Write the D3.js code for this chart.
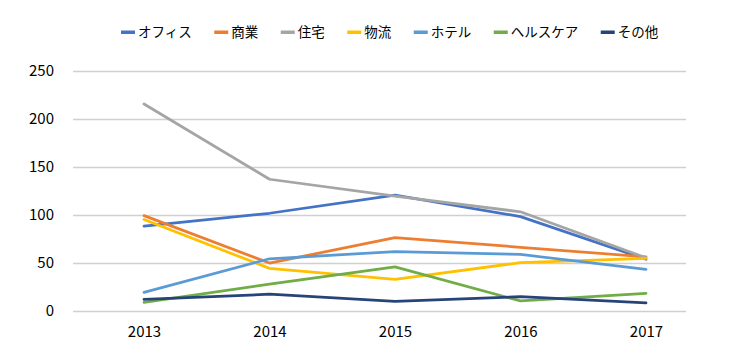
<!DOCTYPE html>
<html><head><meta charset="utf-8">
<script src="https://cdn.jsdelivr.net/npm/d3@7"></script>
<style>body{margin:0;background:#fff;} svg{display:block;}</style>
</head><body>
<svg id="c" width="730" height="361"></svg>
<script>
const years = ["2013","2014","2015","2016","2017"];
const yTicks = [0,50,100,150,200,250];
const seriesNames = ["オフィス","商業","住宅","物流","ホテル","ヘルスケア","その他"];
const seriesColors = ["#4472C4","#ED7D31","#A5A5A5","#FFC000","#5B9BD5","#70AD47","#264478"];
const office = [88, 101.5, 120.5, 98, 53.5];
const commerce = [99, 49.5, 76, 66, 56];
const residential = [215.5, 137, 119.5, 103, 55];
const logistics = [95, 44, 32.5, 50, 54.5];
const hotel = [19, 54, 61.5, 58.5, 43];
const healthcare = [8.5, 27.5, 45.5, 10, 18];
const other = [11.5, 17, 9.5, 14.5, 8];
const seriesValues = [office, commerce, residential, logistics, hotel, healthcare, other];

const svg = d3.select("#c");
const font = "'Noto Sans CJK JP', 'Noto Sans', sans-serif";
const x = d3.scalePoint().domain(years).range([144, 646]);
const y = d3.scaleLinear().domain([0, 250]).range([310.5, 71]);
const gridL = 73, gridR = 686;

// gridlines
svg.append("g").selectAll("line").data(yTicks).join("line")
  .attr("x1", gridL).attr("x2", gridR)
  .attr("y1", d => Math.round(y(d)) + 0.5).attr("y2", d => Math.round(y(d)) + 0.5)
  .attr("stroke", "#D0D0D0").attr("stroke-width", 1.5);

// y axis labels
const yAxis = d3.axisLeft(y).tickValues(yTicks).tickSize(0).tickPadding(0);
const yg = svg.append("g").attr("transform", "translate(54,0)").call(yAxis);
yg.select(".domain").remove();
yg.selectAll("text").attr("font-family", font).attr("font-size", 15).attr("fill", "#000");

// x axis labels
const xAxis = d3.axisBottom(x).tickSize(0).tickPadding(0);
const xg = svg.append("g").attr("transform", "translate(0,326)").call(xAxis);
xg.select(".domain").remove();
xg.selectAll("text").attr("font-family", font).attr("font-size", 15).attr("fill", "#000");

// lines
const line = d3.line().x((d, i) => x(years[i])).y(d => y(d));
svg.append("g").selectAll("path").data(seriesValues).join("path")
  .attr("d", d => line(d))
  .attr("fill", "none")
  .attr("stroke", (d, i) => seriesColors[i])
  .attr("stroke-width", 2.75)
  .attr("stroke-linejoin", "round").attr("stroke-linecap", "round");

// legend
const lg = svg.append("g").attr("transform", "translate(121,32)");
let cx = 0;
seriesNames.forEach((n, i) => {
  const g = lg.append("g").attr("transform", `translate(${cx},0)`);
  g.append("rect").attr("x", 0).attr("y", -1.5).attr("width", 14).attr("height", 3.5).attr("fill", seriesColors[i]);
  const t = g.append("text").attr("x", 17).attr("y", 0).attr("dy", "0.35em")
    .attr("font-family", font).attr("font-size", 13.5).attr("fill", "#000").text(n);
  const w = 17 + t.node().getComputedTextLength();
  cx += w + 22.5;
});
</script>
</body></html>
